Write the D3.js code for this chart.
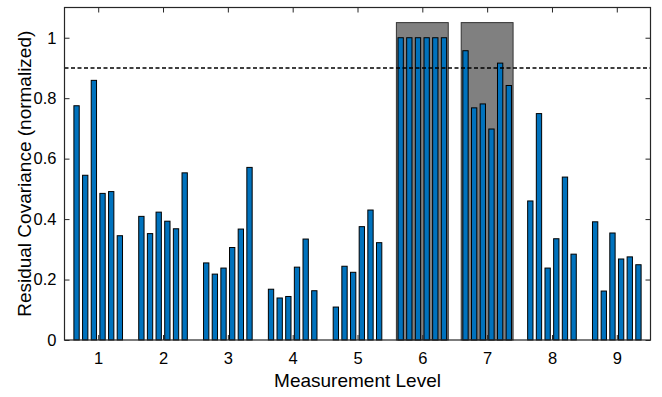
<!DOCTYPE html>
<html>
<head>
<meta charset="utf-8">
<script src="https://cdn.jsdelivr.net/npm/d3@7"></script>
<style>
  body { margin: 0; background: #fff; }
  text { font-family: "Liberation Sans", Arial, sans-serif; fill: #000; }
</style>
</head>
<body>
<div class="graph"></div>
<script>
// measurement levels and the six values per level
var levels = [1, 2, 3, 4, 5, 6, 7, 8, 9]
var series = [
  [0.775, 0.545, 0.859, 0.485, 0.491, 0.345],
  [0.409, 0.352, 0.423, 0.393, 0.368, 0.553],
  [0.255, 0.218, 0.238, 0.306, 0.367, 0.571],
  [0.168, 0.139, 0.144, 0.241, 0.334, 0.163],
  [0.109, 0.244, 0.224, 0.375, 0.430, 0.322],
  [1.0, 1.0, 1.0, 1.0, 1.0, 1.0],
  [0.957, 0.768, 0.781, 0.698, 0.916, 0.842],
  [0.460, 0.749, 0.238, 0.335, 0.539, 0.284],
  [0.391, 0.162, 0.354, 0.268, 0.275, 0.249]
]
var flagged = [6, 7]
var flagTop = 1.05
var threshold = 0.9
var yTicks = [0, 0.2, 0.4, 0.6, 0.8, 1]

var width = 662,
    height = 397
var margin = {left: 64.5, right: 11.5, top: 7.5, bottom: 57}

var x = d3.scaleLinear()
    .domain([0.48, 9.52])
    .range([margin.left, width - margin.right])

var y = d3.scaleLinear()
    .domain([0, 1.1])
    .range([height - margin.bottom, margin.top])

var svg = d3.select('.graph').append('svg')
    .attr('width', width)
    .attr('height', height)

var pitch = 0.1336, barW = 0.082

// gray boxes behind flagged levels
svg.append('g').selectAll('rect')
  .data(flagged)
  .join('rect')
    .attr('x', d => x(d - 0.4))
    .attr('y', y(flagTop))
    .attr('width', x(0.8) - x(0))
    .attr('height', y(0) - y(flagTop))
    .attr('fill', '#808080')
    .attr('stroke', '#333')
    .attr('stroke-width', 1)

// bars
var flat = []
series.forEach((vals, gi) => {
  vals.forEach((v, j) => flat.push({level: levels[gi], j: j, v: v}))
})

svg.append('g').selectAll('rect')
  .data(flat)
  .join('rect')
    .attr('x', d => x(d.level + (d.j - 2.5) * pitch - barW / 2))
    .attr('y', d => y(d.v))
    .attr('width', x(barW) - x(0))
    .attr('height', d => y(0) - y(d.v))
    .attr('fill', '#0072BD')
    .attr('stroke', '#000')
    .attr('stroke-width', 1)

// threshold line
svg.append('line')
    .attr('x1', x.range()[0])
    .attr('x2', x.range()[1])
    .attr('y1', y(threshold))
    .attr('y2', y(threshold))
    .attr('stroke', '#000')
    .attr('stroke-width', 1.5)
    .attr('stroke-dasharray', '4,2.5')

// axes, ticks pointing inward like MATLAB
var tickLen = 5
svg.append('g')
    .attr('transform', `translate(0,${y(0)})`)
    .call(d3.axisBottom(x).tickValues(levels).tickSize(-tickLen).tickPadding(12).tickFormat(d3.format('d')))
svg.append('g')
    .attr('transform', `translate(0,${y.range()[1]})`)
    .call(d3.axisTop(x).tickValues(levels).tickSize(-tickLen).tickFormat(''))
svg.append('g')
    .attr('transform', `translate(${x.range()[0]},0)`)
    .call(d3.axisLeft(y).tickValues(yTicks).tickSize(-tickLen).tickPadding(8).tickFormat(d3.format('~g')))
svg.append('g')
    .attr('transform', `translate(${x.range()[1]},0)`)
    .call(d3.axisRight(y).tickValues(yTicks).tickSize(-tickLen).tickFormat(''))

svg.selectAll('.domain').remove()
svg.selectAll('.tick line').attr('stroke', '#262626')
svg.selectAll('.tick text').attr('font-size', 16.5).attr('fill', '#000')
    .attr('font-family', '"Liberation Sans", Arial, sans-serif')

// box
svg.append('rect')
    .attr('x', x.range()[0])
    .attr('y', y.range()[1])
    .attr('width', x.range()[1] - x.range()[0])
    .attr('height', y.range()[0] - y.range()[1])
    .attr('fill', 'none')
    .attr('stroke', '#262626')
    .attr('stroke-width', 1.2)

svg.append('text')
    .attr('x', (x.range()[0] + x.range()[1]) / 2)
    .attr('y', 387)
    .attr('text-anchor', 'middle')
    .attr('font-size', 19)
    .text('Measurement Level')

svg.append('text')
    .attr('transform', `translate(31,${(y.range()[0] + y.range()[1]) / 2}) rotate(-90)`)
    .attr('text-anchor', 'middle')
    .attr('font-size', 19)
    .text('Residual Covariance (normalized)')
</script>
</body>
</html>
